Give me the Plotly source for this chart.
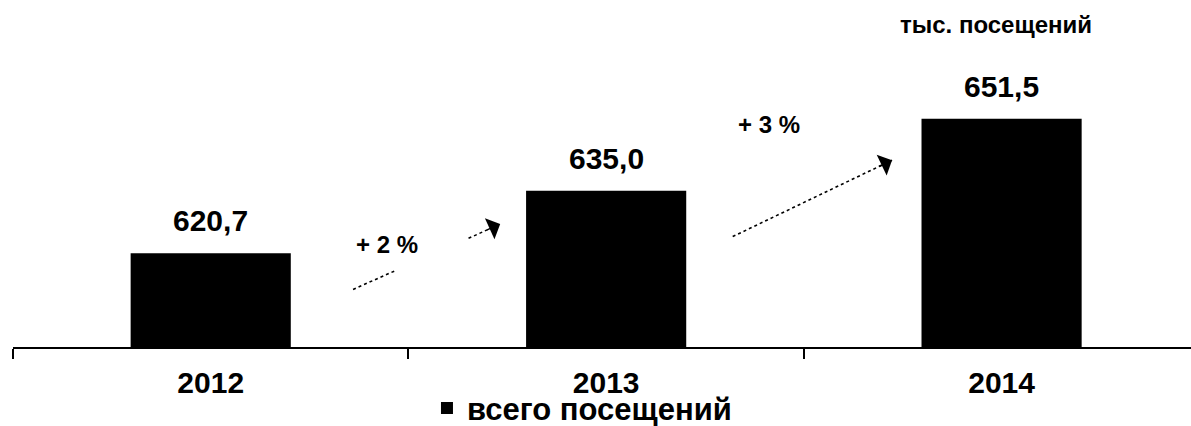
import math
import plotly.graph_objects as go

# ---- data ----
years = ["2012", "2013", "2014"]
visits = [620.7, 635.0, 651.5]          # тыс. посещений
growth_labels = ["+ 2 %", "+ 3 %"]
series_name = "всего посещений"
unit_label = "тыс. посещений"

FONT = "Liberation Sans, Arial, sans-serif"

X_RANGE = [-0.5, 2.479]
Y_RANGE = [599.2, 669.55]
W, H = 1191, 426
M = dict(l=13, r=0, t=40, b=79)
PX_X = (W - M["l"] - M["r"]) / (X_RANGE[1] - X_RANGE[0])
PX_Y = (H - M["t"] - M["b"]) / (Y_RANGE[1] - Y_RANGE[0])

fig = go.Figure()
fig.add_trace(go.Bar(
    x=years, y=visits, name=series_name,
    marker=dict(color="black", line=dict(width=0)),
    width=0.405, showlegend=True,
))

# value labels above bars
for i, v in enumerate(visits):
    fig.add_annotation(
        x=i, y=v, xref="x", yref="y",
        text=f"{v:.1f}".replace(".", ","),
        showarrow=False, yanchor="bottom", yshift=14,
        font=dict(family=FONT, size=30, color="black", weight="bold"),
    )

# growth arrows (dotted lines with arrowheads), in data units
arrow_segments = [
    # (x0, y0, x1, y1, has_head)
    (0.360, 612.4, 0.467, 616.7, False),
    (0.652, 624.1, 0.732, 627.4, True),
    (1.320, 624.5, 1.723, 642.0, True),
]
for x0, y0, x1, y1, head in arrow_segments:
    fig.add_shape(type="line", xref="x", yref="y", x0=x0, y0=y0, x1=x1, y1=y1,
                  line=dict(color="black", width=1.6, dash="dot"))
    if head:
        dx = (x1 - x0) * PX_X
        dy = -(y1 - y0) * PX_Y
        L = math.hypot(dx, dy)
        back = 16
        fig.add_annotation(x=x1, y=y1, ax=-dx / L * back, ay=-dy / L * back,
                           xref="x", yref="y",
                           text="", showarrow=True, arrowhead=1, arrowsize=2.4,
                           arrowwidth=1.6, arrowcolor="black")

growth_pos = [(0.445, 622.8), (1.412, 650.2)]
for (gx, gy), lbl in zip(growth_pos, growth_labels):
    fig.add_annotation(x=gx, y=gy, xref="x", yref="y", text=lbl, showarrow=False,
                       font=dict(family=FONT, size=24, color="black", weight="bold"))

# unit label top right
fig.add_annotation(x=0.8345, y=1.049, xref="paper", yref="paper", text=unit_label,
                   showarrow=False, xanchor="center", yanchor="middle",
                   font=dict(family=FONT, size=24, color="black", weight="bold"))

fig.update_layout(
    width=W, height=H,
    margin=dict(**M, autoexpand=False),
    paper_bgcolor="white", plot_bgcolor="white",
    font=dict(family=FONT, color="black"),
    showlegend=True,
    legend=dict(orientation="h", x=0.483, xanchor="center", y=-0.2, yanchor="middle",
                font=dict(family=FONT, size=31, color="black", weight="bold"),
                bgcolor="rgba(0,0,0,0)", borderwidth=0),
    bargap=0.6,
)
fig.update_xaxes(
    type="category", range=X_RANGE,
    showline=True, linecolor="black", linewidth=2,
    ticks="outside", tickson="boundaries", ticklen=10, tickwidth=2, tickcolor="black",
    tickfont=dict(family=FONT, size=30, color="black", weight="bold"),
    ticklabelstandoff=8,
    showgrid=False, zeroline=False,
)
fig.update_yaxes(
    range=Y_RANGE, visible=False, showgrid=False, zeroline=False,
)

fig.write_html("out.html", config={"displayModeBar": False})

# remove the default page margin so the figure sits at the window's top-left corner
with open("out.html", "r", encoding="utf-8") as f:
    html = f.read()
html = html.replace("<body>", '<body style="margin:0;padding:0;overflow:hidden">', 1)
with open("out.html", "w", encoding="utf-8") as f:
    f.write(html)
